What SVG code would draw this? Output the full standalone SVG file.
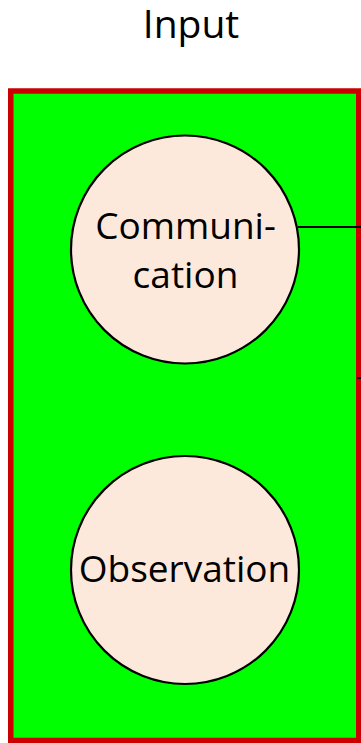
<svg xmlns="http://www.w3.org/2000/svg" width="361" height="743" viewBox="0 0 361 743">
  <style>
    .lbl { font-family: "Open Sans", "Noto Sans", sans-serif; font-size: 37px; fill: #000; text-anchor: middle; }
    .title { font-size: 39px; }
    .node { fill: #fde9db; stroke: #000; stroke-width: 2.2; }
    .edge { stroke: #000; stroke-width: 2; fill: none; }
  </style>
  <rect width="361" height="743" fill="#fff"/>
  <text class="lbl title" x="191" y="37.5">Input</text>
  <g id="input-panel">
    <rect x="10.75" y="91" width="348" height="649.5" fill="#00ff00" stroke="#cc0000" stroke-width="5.5"/>
  </g>
  <g id="connectors">
    <line class="edge" x1="298" y1="227" x2="361" y2="227"/>
    <line class="edge" x1="357" y1="378" x2="361" y2="378"/>
  </g>
  <g id="communication">
    <circle class="node" cx="185" cy="249.5" r="114"/>
    <text class="lbl" x="185.5" y="239">Communi-</text>
    <text class="lbl" x="185.5" y="288">cation</text>
  </g>
  <g id="observation">
    <circle class="node" cx="185" cy="570" r="114"/>
    <text class="lbl" x="184.5" y="582">Observation</text>
  </g>
</svg>
